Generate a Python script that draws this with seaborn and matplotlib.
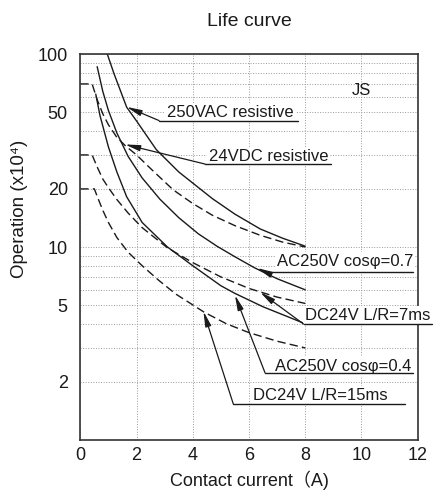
import numpy as np
import pandas as pd
import seaborn as sns
import matplotlib.pyplot as plt
from matplotlib.ticker import FixedLocator, NullFormatter

# --- curve data (x = contact current A, y = operations x10^4) ---
ac_res_x = [0.96, 1.2, 1.65, 2.0, 2.7, 3.5, 4.7, 5.5, 6.4, 7.2, 8.0]
ac_res_y = [100, 79, 53, 45, 32, 24.5, 17.8, 14.8, 12.4, 11.1, 10.1]

dc_res_x = [0, 0.42, 0.6, 0.8, 1.0, 1.3, 1.6, 2.0, 2.5, 3.3, 4.0, 4.7, 5.5, 6.4, 7.2, 8.0]
dc_res_y = [70, 70, 58, 49, 43, 37, 33.5, 30, 25.5, 19.8, 16.8, 14.6, 12.9, 11.5, 10.6, 10.0]

ac07_x = [0.6, 0.8, 1.0, 1.3, 1.7, 2.2, 2.83, 3.5, 4.2, 4.86, 5.5, 6.2, 7.0, 8.0]
ac07_y = [86, 64, 51, 39, 29.5, 22.8, 17.7, 14.2, 11.7, 10.1, 8.9, 7.8, 6.85, 6.0]

dc7_x = [0, 0.42, 0.6, 0.8, 1.0, 1.29, 1.7, 2.2, 3.1, 4.0, 5.0, 6.0, 7.0, 8.0]
dc7_y = [30, 30, 26, 22.5, 20.3, 17.7, 15, 12.6, 9.9, 8.3, 7.0, 6.1, 5.5, 5.1]

ac04_x = [0.55, 0.7, 1.0, 1.3, 1.65, 2.2, 3.1, 4.0, 5.0, 5.5, 6.5, 7.3, 8.0]
ac04_y = [62, 48, 33, 24.5, 18.2, 13.4, 10.0, 8.0, 6.3, 5.75, 4.9, 4.4, 4.0]

dc15_x = [0, 0.5, 0.64, 0.8, 1.0, 1.3, 1.7, 2.2, 2.8, 3.4, 4.4, 5.2, 6.0, 7.0, 8.0]
dc15_y = [20, 20, 17.7, 15.5, 13.4, 11.2, 9.4, 8.0, 6.7, 5.7, 4.6, 4.0, 3.6, 3.25, 3.0]

y_major = [2, 5, 10, 20, 50, 100]
y_major_labels = ['2', '5', '10', '20', '50', '100']
x_major = [0, 2, 4, 6, 8, 10, 12]

curves = [
    ('250VAC resistive', ac_res_x, ac_res_y, '-'),
    ('24VDC resistive', dc_res_x, dc_res_y, '--'),
    ('AC250V cos0.7', ac07_x, ac07_y, '-'),
    ('DC24V 7ms', dc7_x, dc7_y, '--'),
    ('AC250V cos0.4', ac04_x, ac04_y, '-'),
    ('DC24V 15ms', dc15_x, dc15_y, '--'),
]

sns.set_theme(style='white')
plt.rcParams['font.family'] = ['Liberation Sans', 'Noto Sans CJK JP', 'DejaVu Sans']

ink = '#1a1a1a'
fig = plt.figure(figsize=(4.35, 4.92), dpi=100)
ax = fig.add_axes([0.1846, 0.1057, 0.7756, 0.7845])

for name, xs, ys, ls in curves:
    df = pd.DataFrame({'x': xs, 'y': ys})
    sns.lineplot(data=df, x='x', y='y', ax=ax, color=ink, lw=1.0,
                 estimator=None, sort=False,
                 linestyle=(0, (6, 3)) if ls == '--' else '-')

ax.set_yscale('log')
ax.set_xlim(0, 12)
ax.set_ylim(1, 100)
ax.set_xticks(x_major)
ax.xaxis.set_minor_locator(FixedLocator([1, 3, 5, 7, 9, 11]))
ax.set_yticks(y_major, labels=y_major_labels)
ax.yaxis.set_minor_locator(FixedLocator([3, 4, 6, 7, 8, 9, 30, 40, 60, 70, 80, 90]))
ax.yaxis.set_minor_formatter(NullFormatter())

ax.tick_params(axis='both', which='both', direction='in', colors=ink, labelsize=13)
ax.tick_params(axis='x', which='major', length=0, pad=5)
ax.tick_params(axis='x', which='minor', length=4, width=1)
ax.tick_params(axis='y', which='both', length=5, width=1, pad=9)

ax.grid(which='major', axis='x', ls=':', color='#9a9a9a', lw=0.7)
ax.grid(which='both', axis='y', ls=':', color='#9a9a9a', lw=0.7)
for sp in ax.spines.values():
    sp.set_color('#333333')
    sp.set_linewidth(1.2)
    sp.set_visible(True)

ax.set_title('Life curve', fontsize=14, color=ink, pad=20)
ax.set_xlabel('Contact current（A)', fontsize=13, color=ink, labelpad=5)
ax.set_ylabel('Operation (x10⁴)', fontsize=13.5, color=ink)
ax.yaxis.set_label_coords(-0.155, 0.60)

# callout labels: text, text anchor, arrow tip, knee, underline end
callouts = [
    ('250VAC resistive', (3.09, 46.9), (1.65, 53.2), (2.8, 45.2), 7.75),
    ('24VDC resistive', (4.56, 27.8), (1.59, 34.0), (4.44, 26.9), 8.9),
    ('AC250V cosφ=0.7', (6.99, 7.94), (6.29, 7.78), (6.59, 7.42), 11.84),
    ('DC24V L/R=7ms', (8.0, 4.18), (6.4, 5.83), (7.94, 3.99), 12.5),
    ('AC250V cosφ=0.4', (6.93, 2.28), (5.5, 5.63), (6.57, 2.23), 11.84),
    ('DC24V L/R=15ms', (6.15, 1.62), (4.38, 4.64), (5.44, 1.54), 11.56),
]
for label, (tx, ty), tip, knee, end in callouts:
    ax.text(tx, ty, label, fontsize=12, color=ink, ha='left', va='baseline',
            zorder=6, bbox=dict(fc='white', ec='none', pad=1.5))
    ax.plot([knee[0], end], [knee[1], knee[1]], color=ink, lw=1.0,
            clip_on=False, zorder=7)
    ax.annotate('', xy=tip, xytext=knee, zorder=7,
                arrowprops=dict(arrowstyle='-|>,head_length=0.9,head_width=0.18',
                                color=ink, lw=0.9, shrinkA=0, shrinkB=0,
                                mutation_scale=10))

ax.text(9.67, 61.5, 'JS', fontsize=12, color=ink, ha='left', va='baseline', zorder=6)

fig.savefig('out.png', dpi=100)
